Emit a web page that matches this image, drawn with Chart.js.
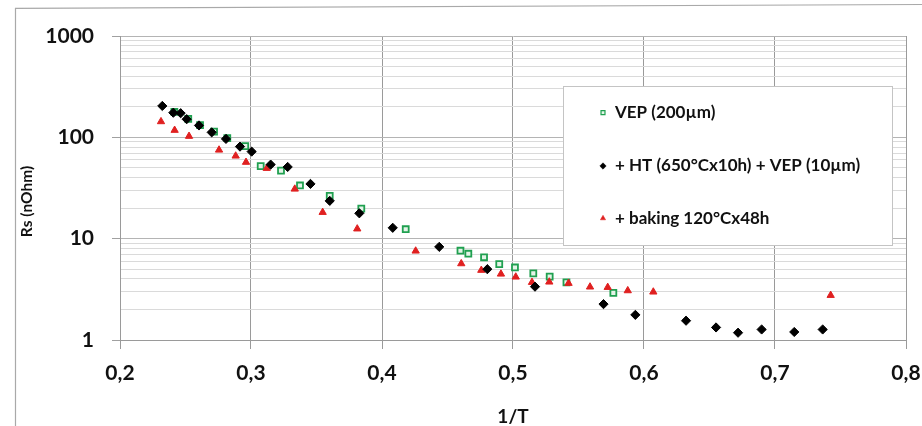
<!DOCTYPE html>
<html>
<head>
<meta charset="utf-8">
<script src="https://cdn.jsdelivr.net/npm/chart.js@4/dist/chart.umd.min.js"></script>
<style>
html,body{margin:0;padding:0;background:#fff;}
#wrap{width:922px;height:426px;position:relative;}
</style>
</head>
<body>
<div id="wrap"><canvas id="c" width="922" height="426"></canvas></div>
<script>
// ---- data ----
const seriesLabels = ['VEP (200µm)', '+ HT (650°Cx10h) + VEP (10µm)', '+ baking 120°Cx48h'];

const vepX = [0.2415,0.2521,0.2611,0.2718,0.2819,0.2956,0.3074,0.3229,0.3374,0.3601,0.3842,0.4181,0.4599,0.4659,0.4779,0.4895,0.5015,0.5155,0.5280,0.5408,0.5766];
const vepY = [178,152,132,114,98,82,52,47,33.5,26.4,19.8,12.4,7.6,7.1,6.55,5.6,5.2,4.55,4.22,3.71,2.92];

const htX = [0.2323,0.2407,0.2463,0.2509,0.2603,0.2700,0.2809,0.2916,0.3005,0.3150,0.3280,0.3454,0.3601,0.3827,0.4082,0.4437,0.4804,0.5168,0.5691,0.5934,0.6321,0.6550,0.6718,0.6898,0.7147,0.7364];
const htY = [204,175,173,151,131,112,96.5,81,72.3,53.8,51,34.7,23.6,17.8,12.8,8.3,5.0,3.36,2.26,1.77,1.55,1.33,1.18,1.27,1.20,1.27];

const bakeX = [0.2313,0.2417,0.2527,0.2756,0.2883,0.2962,0.3120,0.3334,0.3547,0.3811,0.4257,0.4605,0.4758,0.4908,0.5021,0.5145,0.5277,0.5424,0.5588,0.5723,0.5876,0.6071,0.7425];
const bakeY = [143,117.5,102.5,75,65.5,56.8,49.5,30.9,18.2,12.5,7.56,5.67,4.88,4.48,4.19,3.71,3.74,3.63,3.34,3.31,3.07,2.98,2.76];

const xTickValues = [0.2,0.3,0.4,0.5,0.6,0.7,0.8];
const yTickLabels = [1,10,100,1000];
const xTitle = '1/T';
const yTitle = 'Rs (nOhm)';

// ---- helpers ----
const pts = (xs, ys) => xs.map((x, i) => ({x: x, y: ys[i]}));
const yMinorTicks = [];
for (let d = 0; d < yTickLabels.length - 1; d++) {
  for (let m = 1; m < 10; m++) yMinorTicks.push(m * yTickLabels[d]);
}
yMinorTicks.push(yTickLabels[yTickLabels.length - 1]);
const isMajor = v => yTickLabels.indexOf(v) !== -1;

const FONT = 'Lato, "Open Sans", "DejaVu Sans", sans-serif';

const framePlugin = {
  id: 'frame',
  beforeDraw(chart) {
    const ctx = chart.ctx;
    ctx.save();
    ctx.fillStyle = '#fff';
    ctx.fillRect(0, 0, chart.width, chart.height);
    ctx.strokeStyle = '#a9a9a9';
    ctx.lineWidth = 1.2;
    ctx.beginPath();
    ctx.moveTo(15.5, 426);
    ctx.lineTo(15.5, 8.3);
    ctx.lineTo(922, 4.5);
    ctx.stroke();
    ctx.restore();
  },
  afterDraw(chart) {
    const ctx = chart.ctx;
    ctx.save();
    ctx.translate(27, 201.5);
    ctx.rotate(-Math.PI / 2);
    ctx.fillStyle = '#111';
    ctx.font = 'bold 15.5px ' + FONT;
    ctx.textAlign = 'center';
    ctx.textBaseline = 'middle';
    ctx.fillText(yTitle, 0, 0);
    ctx.restore();
  }
};

const legendBoxPlugin = {
  id: 'legendBox',
  afterDatasetsDraw(chart) {
    const ctx = chart.ctx;
    const bx = 563.5, by = 86.5, bw = 329, bh = 159;
    const rowY = [112.7, 166, 218.3];
    ctx.save();
    ctx.fillStyle = '#fff';
    ctx.fillRect(bx, by, bw, bh);
    ctx.strokeStyle = '#c4c4c4';
    ctx.lineWidth = 1;
    ctx.strokeRect(bx, by, bw, bh);
    chart.data.datasets.forEach((ds, i) => {
      const y = rowY[i];
      ctx.fillStyle = ds.backgroundColor;
      ctx.strokeStyle = ds.borderColor;
      ctx.lineWidth = ds.legendBorder;
      Chart.helpers.drawPoint(ctx, {pointStyle: ds.pointStyle, radius: ds.legendRadius, rotation: 0, borderWidth: ds.legendBorder}, 603, y);
      ctx.fillStyle = '#111';
      ctx.font = 'bold 17px ' + FONT;
      ctx.textAlign = 'left';
      ctx.textBaseline = 'middle';
      ctx.fillText(ds.label, 615, y);
    });
    ctx.restore();
  }
};

new Chart(document.getElementById('c'), {
  type: 'scatter',
  data: {
    datasets: [
      {
        label: seriesLabels[0],
        data: pts(vepX, vepY),
        pointStyle: 'rect',
        pointRadius: 4.2,
        borderWidth: 1.8,
        borderColor: '#20a050',
        backgroundColor: '#e4f4e8',
        legendRadius: 2.8,
        legendBorder: 1.2,
        order: 3
      },
      {
        label: seriesLabels[1],
        data: pts(htX, htY),
        pointStyle: 'rectRot',
        pointRadius: 4.6,
        borderWidth: 1,
        borderColor: '#000',
        backgroundColor: '#000',
        legendRadius: 3.2,
        legendBorder: 0.5,
        order: 1
      },
      {
        label: seriesLabels[2],
        data: pts(bakeX, bakeY),
        pointStyle: 'triangle',
        pointRadius: 4.2,
        borderWidth: 1,
        borderColor: '#e02020',
        backgroundColor: '#e02020',
        legendRadius: 3,
        legendBorder: 0.5,
        order: 2
      }
    ]
  },
  options: {
    responsive: false,
    animation: false,
    devicePixelRatio: 1,
    layout: {padding: {top: 36, right: 16, left: 0, bottom: 0}},
    plugins: {
      legend: {display: false},
      tooltip: {enabled: false},
      title: {display: false}
    },
    scales: {
      x: {
        type: 'linear',
        min: 0.2,
        max: 0.8,
        afterBuildTicks: s => { s.ticks = xTickValues.map(v => ({value: v})); },
        afterFit: s => { s.height = 86; s.paddingLeft = 0; s.paddingRight = 0; },
        ticks: {
          autoSkip: false,
          maxRotation: 0,
          padding: 12,
          color: '#111',
          font: {family: FONT, weight: 'bold', size: 21},
          callback: v => Number(v).toFixed(1).replace('.', ',')
        },
        grid: {color: '#9a9a9a', tickColor: '#9a9a9a', tickLength: 9, lineWidth: 1},
        border: {color: '#9a9a9a'},
        title: {
          display: true,
          text: xTitle,
          color: '#111',
          font: {family: FONT, weight: 'bold', size: 19, lineHeight: 1},
          padding: {top: 0, bottom: 0}
        }
      },
      y: {
        type: 'logarithmic',
        min: 1,
        max: 1000,
        afterBuildTicks: s => { s.ticks = yMinorTicks.map(v => ({value: v})); },
        afterFit: s => { s.width = 120; s.paddingTop = 0; s.paddingBottom = 0; },
        ticks: {
          autoSkip: false,
          padding: 18,
          color: '#111',
          font: {family: FONT, weight: 'bold', size: 21},
          callback: v => isMajor(v) ? String(v) : ''
        },
        grid: {
          color: c => (c.tick && isMajor(c.tick.value)) ? '#b4b4b4' : '#dadada',
          tickColor: c => (c.tick && isMajor(c.tick.value)) ? '#a0a0a0' : 'rgba(0,0,0,0)',
          tickLength: 8,
          lineWidth: 1
        },
        border: {color: '#9a9a9a'}
      }
    }
  },
  plugins: [framePlugin, legendBoxPlugin]
});
</script>
</body>
</html>
